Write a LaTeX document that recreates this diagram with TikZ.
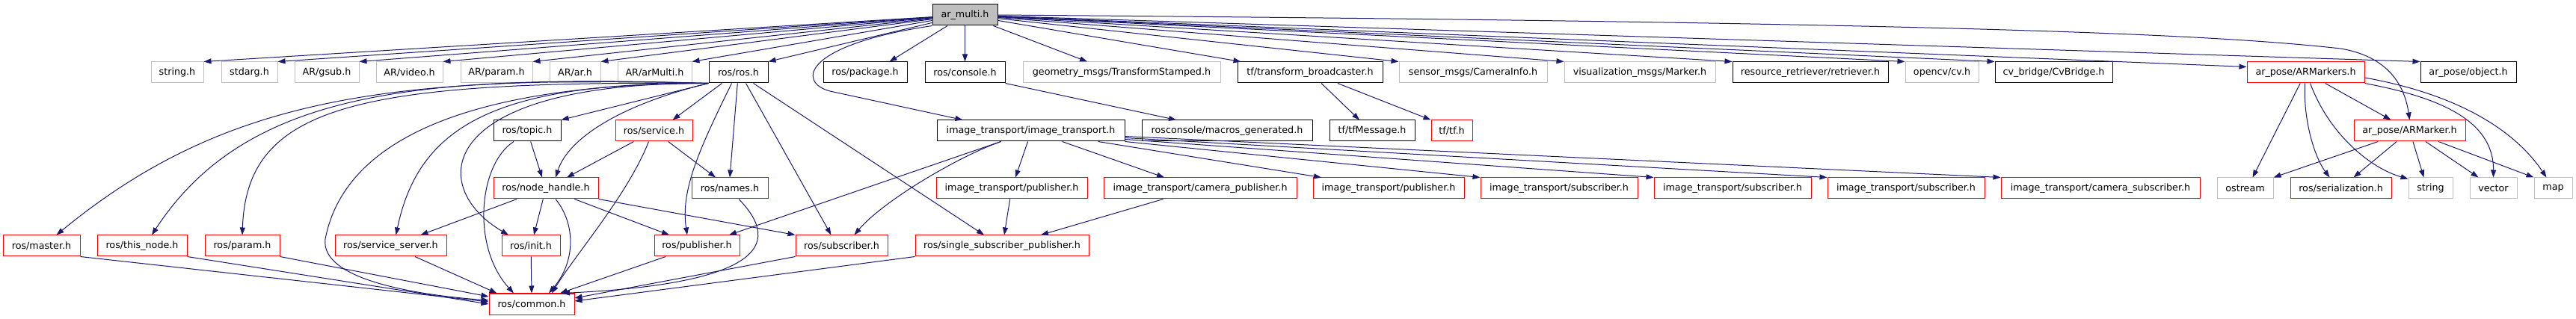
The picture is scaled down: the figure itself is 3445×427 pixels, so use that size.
\documentclass[tikz,border=0pt]{standalone}
\usepackage{fontspec}
\setmainfont{DejaVu Sans}
\usepackage{xcolor}
\usepackage{tikz}
\usetikzlibrary{arrows.meta}

\definecolor{edgeblue}{HTML}{191970}
\definecolor{filegray}{HTML}{BFBFBF}
\definecolor{filered}{HTML}{FF0000}

\tikzset{
  file/.style={draw=black, line width=1pt, rectangle, inner sep=0pt,
    minimum height=28pt, font=\fontsize{12.7}{15}\selectfont},
  redfile/.style={file, draw=filered},
  grayfile/.style={file, draw=filegray},
  rootfile/.style={file, fill=filegray},
  edge/.style={draw=edgeblue, line width=1pt,
    -{Triangle[length=10pt, width=7pt]}}
}

\begin{document}
\begin{tikzpicture}[x=1pt, y=-1pt]
    \useasboundingbox (0, 0) rectangle (3445, 427);

    % root
    \node[rootfile, minimum width=87pt](root) at (1290.5, 20){ar\_multi.h};

    % row 2
    \node[grayfile, minimum width=70pt](string) at (237, 97){string.h};
    \node[grayfile, minimum width=75pt](stdarg) at (333.5, 97){stdarg.h};
    \node[grayfile, minimum width=86pt](gsub) at (437, 97){AR/gsub.h};
    \node[grayfile, minimum width=89pt](video) at (547.5, 97){AR/video.h};
    \node[grayfile, minimum width=96pt](arparam) at (664, 97){AR/param.h};
    \node[grayfile, minimum width=68pt](arar) at (769, 97){AR/ar.h};
    \node[grayfile, minimum width=99pt](armulti) at (875.5, 97){AR/arMulti.h};
    \node[file, minimum width=79pt](ros) at (987.5, 97){ros/ros.h};
    \node[file, minimum width=112pt](package) at (1157, 97){ros/package.h};
    \node[file, minimum width=107pt](console) at (1290.5, 97){ros/console.h};
    \node[grayfile, minimum width=264pt](tfstamped) at (1500, 97){geometry\_msgs/TransformStamped.h};
    \node[file, minimum width=194pt](broadcaster) at (1752, 97){tf/transform\_broadcaster.h};
    \node[grayfile, minimum width=198pt](camerainfo) at (1970, 97){sensor\_msgs/CameraInfo.h};
    \node[grayfile, minimum width=202pt](marker) at (2193, 97){visualization\_msgs/Marker.h};
    \node[file, minimum width=208pt](retriever) at (2421, 97){resource\_retriever/retriever.h};
    \node[grayfile, minimum width=98pt](opencv) at (2597, 97){opencv/cv.h};
    \node[file, minimum width=157pt](cvbridge) at (2746.5, 97){cv\_bridge/CvBridge.h};
    \node[redfile, minimum width=157pt](armarkers) at (3083.5, 97){ar\_pose/ARMarkers.h};
    \node[file, minimum width=128pt](object) at (3301, 97){ar\_pose/object.h};

    % row 3
    \node[file, minimum width=90pt](topic) at (705, 175){ros/topic.h};
    \node[redfile, minimum width=103pt](service) at (874.5, 175){ros/service.h};
    \node[file, minimum width=251pt](itr) at (1378.5, 175){image\_transport/image\_transport.h};
    \node[file, minimum width=228pt](macros) at (1641, 175){rosconsole/macros\_generated.h};
    \node[file, minimum width=114pt](tfmessage) at (1835, 175){tf/tfMessage.h};
    \node[redfile, minimum width=55pt](tftf) at (1941.5, 175){tf/tf.h};
    \node[redfile, minimum width=149pt](armarker) at (3222.5, 175){ar\_pose/ARMarker.h};

    % row 4
    \node[redfile, minimum width=140pt](nodehandle) at (730, 252){ros/node\_handle.h};
    \node[redfile, minimum width=102pt](names) at (976, 252){ros/names.h};
    \node[redfile, minimum width=202pt](itpub) at (1353, 252){image\_transport/publisher.h};
    \node[redfile, minimum width=258pt](itcampub) at (1605, 252){image\_transport/camera\_publisher.h};
    \node[redfile, minimum width=202pt](itpubb) at (1857, 252){image\_transport/publisher.h};
    \node[redfile, minimum width=210pt](itsuba) at (2085, 252){image\_transport/subscriber.h};
    \node[redfile, minimum width=210pt](itsubb) at (2317, 252){image\_transport/subscriber.h};
    \node[redfile, minimum width=210pt](itsubc) at (2549, 252){image\_transport/subscriber.h};
    \node[redfile, minimum width=266pt](itcamsub) at (2809, 252){image\_transport/camera\_subscriber.h};
    \node[grayfile, minimum width=75pt](ostream) at (3002.5, 252){ostream};
    \node[redfile, minimum width=135pt](serialization) at (3130.5, 252){ros/serialization.h};
    \node[grayfile, minimum width=59pt](stringstd) at (3250.5, 252){string};
    \node[grayfile, minimum width=63pt](vector) at (3334.5, 252){vector};
    \node[grayfile, minimum width=51pt](map) at (3414.5, 252){map};

    % row 5
    \node[redfile, minimum width=103pt](master) at (55.5, 329){ros/master.h};
    \node[redfile, minimum width=120pt](thisnode) at (190, 329){ros/this\_node.h};
    \node[redfile, minimum width=100pt](rosparam) at (324, 329){ros/param.h};
    \node[redfile, minimum width=149pt](servicesrv) at (522.5, 329){ros/service\_server.h};
    \node[redfile, minimum width=78pt](init) at (710, 329){ros/init.h};
    \node[redfile, minimum width=114pt](publisher) at (932, 329){ros/publisher.h};
    \node[redfile, minimum width=123pt](subscriber) at (1125.5, 329){ros/subscriber.h};
    \node[redfile, minimum width=232pt](ssp) at (1340, 329){ros/single\_subscriber\_publisher.h};

    % row 6
    \node[redfile, minimum width=114pt](common) at (711, 407){ros/common.h};

    % ar_multi.h
    \draw [edge] (root) -- (string.north east);
    \draw [edge] (root) -- (stdarg.north east);
    \draw [edge] (root) -- (gsub.north east);
    \draw [edge] (root) -- (video.north east);
    \draw [edge] (root) -- (arparam.north east);
    \draw [edge] (root) -- (arar.north east);
    \draw [edge] (root) -- (armulti.north east);
    \draw [edge] (root) -- (ros.north east);
    \draw [edge] (root) -- ([xshift=-24pt]package.north east);
    \draw [edge] (root) -- (console.north);
    \draw [edge] (root) -- ([xshift=-46pt]tfstamped.north);
    \draw [edge] (root) -- ([xshift=5pt]broadcaster.north west);
    \draw [edge] (root) -- (camerainfo.north west);
    \draw [edge] (root) -- (marker.north west);
    \draw [edge] (root) -- (retriever.north west);
    \draw [edge] (root) -- (opencv.north west);
    \draw [edge] (root) -- (cvbridge.north west);
    \draw [edge] (root) -- ([yshift=-7pt]armarkers.north west);
    \draw [edge] (root) -- (object.north west);
    \draw [edge] (root.south west) .. controls (1075, 60) and (1065, 110) ..
      (1110, 122) -- ([xshift=-91pt]itr.north);
    \draw [edge] (root.east) .. controls (2600, 30) and (2950, 45) ..
      (3130, 65) .. controls (3190, 75) and (3215, 110) .. (armarker.north);

    % ros/ros.h
    \draw [edge] (ros.south west) .. controls (520, 100) and (300, 130) ..
      ([xshift=20pt]master.north);
    \draw [edge] (ros.south west) .. controls (560, 100) and (330, 120) ..
      ([xshift=13pt]thisnode.north);
    \draw [edge] (ros.south west) .. controls (480, 108) and (330, 140) ..
      (rosparam.north);
    \draw [edge] (ros.south west) .. controls (620, 112) and (460, 190) ..
      (435, 320) .. controls (428, 375) and (560, 395) .. ([yshift=5pt]common.west);
    \draw [edge] (ros.south west) .. controls (660, 110) and (560, 170) ..
      ([xshift=7pt]servicesrv.north);
    \draw [edge] (ros.south west) .. controls (580, 110) and (570, 250) ..
      ([xshift=-30pt]init.north);
    \draw [edge] (ros.south west) -- (topic.north east);
    \draw [edge] (ros.south west) .. controls (830, 140) and (760, 185) ..
      ([xshift=13pt]nodehandle.north);
    \draw [edge] ([xshift=-22pt]ros.south) -- ([xshift=25pt]service.north);
    \draw [edge] ([xshift=-9pt]ros.south) .. controls (935, 200) and (910, 255) ..
      ([xshift=-13pt]publisher.north);
    \draw [edge] (ros) -- (names.north);
    \draw [edge] ([xshift=10pt]ros.south) -- ([xshift=-14pt]subscriber.north);
    \draw [edge] ([xshift=20pt]ros.south) -- ([xshift=-24pt]ssp.north);

    % ros/topic.h, ros/service.h
    \draw [edge] (topic) -- ([xshift=-5pt]nodehandle.north);
    \draw [edge] ([xshift=-18pt]topic.south) .. controls (640, 220) and (630, 330) ..
      ([xshift=-24pt]common.north);
    \draw [edge] (service) -- ([xshift=28pt]nodehandle.north);
    \draw [edge] (service) -- ([xshift=-19pt]names.north);
    \draw [edge] ([xshift=-7pt]service.south) .. controls (840, 260) and (770, 340) ..
      ([xshift=27pt]common.north);

    % ros/node_handle.h, ros/names.h
    \draw [edge] (nodehandle) -- ([xshift=40pt]servicesrv.north);
    \draw [edge] (nodehandle) -- ([xshift=4pt]init.north);
    \draw [edge] ([xshift=13pt]nodehandle.south) .. controls (770, 300) and (770, 350) ..
      ([xshift=23pt]common.north);
    \draw [edge] (nodehandle) -- ([xshift=-37pt]publisher.north);
    \draw [edge] (nodehandle.south east) -- (subscriber.north west);
    \draw [edge] ([xshift=12pt]names.south) .. controls (1050, 330) and (1010, 380) ..
      ([xshift=41pt]common.north);

    % into ros/common.h
    \draw [edge] (master.south east) -- ([yshift=3pt]common.west);
    \draw [edge] (thisnode.south east) -- (common.west);
    \draw [edge] (rosparam.south east) -- ([yshift=10pt]common.west);
    \draw [edge] (servicesrv) -- ([xshift=11pt]common.north west);
    \draw [edge] (init) -- (common.north);
    \draw [edge] (publisher) -- ([xshift=38pt]common.north);
    \draw [edge] (subscriber.south west) -- ([yshift=8pt]common.east);
    \draw [edge] (ssp.south west) -- ([yshift=4pt]common.east);

    % image_transport/image_transport.h
    \draw [edge] ([xshift=-40pt]itr.south) -- ([xshift=43pt]publisher.north);
    \draw [edge] ([xshift=-40pt]itr.south) .. controls (1280, 210) and (1180, 270) ..
      ([xshift=17pt]subscriber.north);
    \draw [edge] ([xshift=-4pt]itr.south) -- ([xshift=5pt]itpub.north);
    \draw [edge] ([xshift=42pt]itr.south) -- ([xshift=-48pt]itcampub.north);
    \draw [edge] ([xshift=90pt]itr.south) -- ([xshift=-90pt]itpubb.north);
    \draw [edge] (itr.south east) -- (itsuba.north west);
    \draw [edge] ([yshift=3pt]itr.south east) -- (itsubb.north west);
    \draw [edge] ([yshift=5pt]itr.south east) -- (itsubc.north west);
    \draw [edge] ([yshift=7pt]itr.south east) -- (itcamsub.north west);
    \draw [edge] (itpub) -- ([xshift=3pt]ssp.north);
    \draw [edge] (itcampub) -- ([xshift=52pt]ssp.north);

    % console and tf
    \draw [edge] (console.south east) -- ([xshift=-68pt]macros.north);
    \draw [edge] (broadcaster) -- ([xshift=-17pt]tfmessage.north);
    \draw [edge] (broadcaster) -- (tftf.north west);

    % ar_pose/ARMarkers.h
    \draw [edge] (armarkers) -- ([xshift=10pt]ostream.north);
    \draw [edge] ([xshift=-1pt]armarkers.south) .. controls (3080, 160) and (3095, 210) ..
      ([xshift=-15pt]serialization.north);
    \draw [edge] ([xshift=6pt]armarkers.south) .. controls (3115, 180) and (3170, 225) ..
      ([yshift=-2pt]stringstd.north west);
    \draw [edge] (armarkers) -- ([xshift=-25pt]armarker.north);
    \draw [edge] (armarkers.south east) .. controls (3260, 130) and (3335, 160) ..
      (vector.north);
    \draw [edge] ([yshift=-7pt]armarkers.east) .. controls (3280, 125) and (3360, 170) ..
      ([xshift=-9pt]map.north);

    % ar_pose/ARMarker.h
    \draw [edge] (armarker) -- (ostream.north east);
    \draw [edge] (armarker) -- ([xshift=17pt]serialization.north);
    \draw [edge] (armarker) -- ([xshift=-9pt]stringstd.north);
    \draw [edge] (armarker) -- ([xshift=-20pt]vector.north);
    \draw [edge] (armarker) -- (map.north west);
\end{tikzpicture}
\end{document}
